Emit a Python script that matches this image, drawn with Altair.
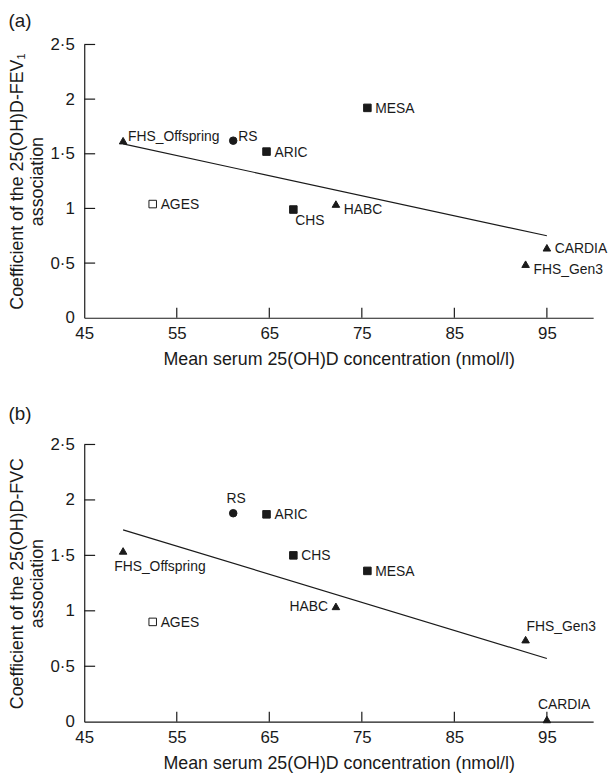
import altair as alt
import pandas as pd

# ---- data ----
studies = ["FHS_Offspring", "RS", "ARIC", "AGES", "CHS", "HABC", "MESA", "CARDIA", "FHS_Gen3"]
mean_25ohd = [49.2, 61.1, 64.7, 52.4, 67.6, 72.2, 75.6, 95.0, 92.7]
marker = ["triangle", "circle", "square", "open square", "square", "triangle", "square", "triangle", "triangle"]
coef_fev1 = [1.62, 1.62, 1.52, 1.04, 0.99, 1.04, 1.92, 0.64, 0.49]
coef_fvc = [1.54, 1.88, 1.87, 0.90, 1.50, 1.04, 1.36, 0.02, 0.74]
label_pos_fev1 = ["right_raised", "right_raised", "right", "right", "below", "right_low", "right", "right", "right_low"]
label_pos_fvc = ["below_left", "above", "right", "right", "right", "left", "right", "above_left", "above_right"]

fit_x = [49.2, 95.0]
fit_fev1 = [1.59, 0.75]
fit_fvc = [1.73, 0.57]

x_ticks = [45, 55, 65, 75, 85, 95]
y_ticks = [0, 0.5, 1, 1.5, 2, 2.5]

FONT = "Liberation Sans"
INK = "#1a1a1a"
W = 514

label_styles = {
    "right": dict(align="left", baseline="middle", dx=8, dy=1),
    "right_raised": dict(align="left", baseline="alphabetic", dx=5, dy=0),
    "right_low": dict(align="left", baseline="middle", dx=8, dy=6),
    "below": dict(align="left", baseline="top", dx=2, dy=5),
    "below_left": dict(align="left", baseline="top", dx=-9, dy=9),
    "above": dict(align="center", baseline="alphabetic", dx=3, dy=-10),
    "above_left": dict(align="left", baseline="alphabetic", dx=-9, dy=-11),
    "above_right": dict(align="left", baseline="alphabetic", dx=1, dy=-9),
    "left": dict(align="right", baseline="middle", dx=-8, dy=1),
}


def panel(coef, label_pos, fit_y, ytitle, letter, height, title_offset):
    df = pd.DataFrame({"study": studies, "x": mean_25ohd, "y": coef,
                       "marker": marker, "pos": label_pos})
    fit = pd.DataFrame({"x": fit_x, "y": fit_y})
    xt = pd.DataFrame({"v": x_ticks[1:]})
    yt = pd.DataFrame({"v": y_ticks[1:]})

    xs = alt.Scale(domain=[45, 100], nice=False, zero=False)
    ys = alt.Scale(domain=[0, 2.5], nice=False, zero=False)

    x_axis = alt.Axis(values=x_ticks, ticks=False, grid=False, labelPadding=8,
                      titlePadding=9, title="Mean serum 25(OH)D concentration (nmol/l)")
    y_axis = alt.Axis(values=y_ticks, ticks=False, grid=False, labelPadding=10,
                      titlePadding=4, title=ytitle, titleLineHeight=20, format="~g",
                      labelExpr="replace(datum.label, '.', '·')")

    def X(f):
        return alt.X(f + ":Q", scale=xs, axis=x_axis)

    def Y(f):
        return alt.Y(f + ":Q", scale=ys, axis=y_axis)

    points = alt.Chart(df).mark_point(filled=False, size=58, strokeWidth=1, opacity=1).encode(
        x=X("x"),
        y=Y("y"),
        shape=alt.Shape("marker:N", legend=None,
                        scale=alt.Scale(domain=["triangle", "circle", "square", "open square"],
                                        range=["triangle-up", "circle", "square", "square"])),
        fill=alt.condition(alt.datum.marker == "open square", alt.value("white"), alt.value(INK)),
        stroke=alt.value(INK),
    )

    line = alt.Chart(fit).mark_line(color=INK, strokeWidth=1.2).encode(
        x=X("x"), y=Y("y"),
    )

    yticks = alt.Chart(yt).mark_rule(color=INK, strokeWidth=1.2).encode(
        y=Y("v"),
        x=alt.value(0), x2=alt.value(11),
    )
    xticks = alt.Chart(xt).mark_rule(color=INK, strokeWidth=1.2).encode(
        x=X("v"),
        y=alt.value(height), y2=alt.value(height - 10),
    )

    texts = []
    for pos in sorted(set(label_pos)):
        st = label_styles[pos]
        texts.append(
            alt.Chart(df).transform_filter(alt.datum.pos == pos).mark_text(
                font=FONT, fontSize=14, color=INK, **st
            ).encode(
                x=X("x"), y=Y("y"),
                text="study:N",
            )
        )

    return alt.layer(points, line, yticks, xticks, *texts).properties(
        width=W, height=height,
        title=alt.TitleParams(letter, anchor="start", frame="bounds", fontSize=19,
                              fontWeight="normal", font=FONT, color=INK, offset=title_offset),
    )


pa = panel(coef_fev1, label_pos_fev1, fit_fev1,
           ["Coefficient of the 25(OH)D-FEV\u2081", "association"], "(a)", 276, 5)
pb = panel(coef_fvc, label_pos_fvc, fit_fvc,
           ["Coefficient of the 25(OH)D-FVC", "association"], "(b)", 280, 12)

chart = alt.vconcat(pa, pb, spacing=37).properties(
    padding={"left": 0, "top": 0, "right": 0, "bottom": 0}
).configure_view(stroke=None).configure_axis(
    labelFont=FONT, titleFont=FONT, labelFontSize=17, titleFontSize=18,
    titleFontWeight="normal", labelColor=INK, titleColor=INK,
    domainColor=INK, domainWidth=1.2, labelFlush=False, labelOverlap=False,
)

chart.save("out.html", embed_options={"renderer": "svg", "actions": False})
